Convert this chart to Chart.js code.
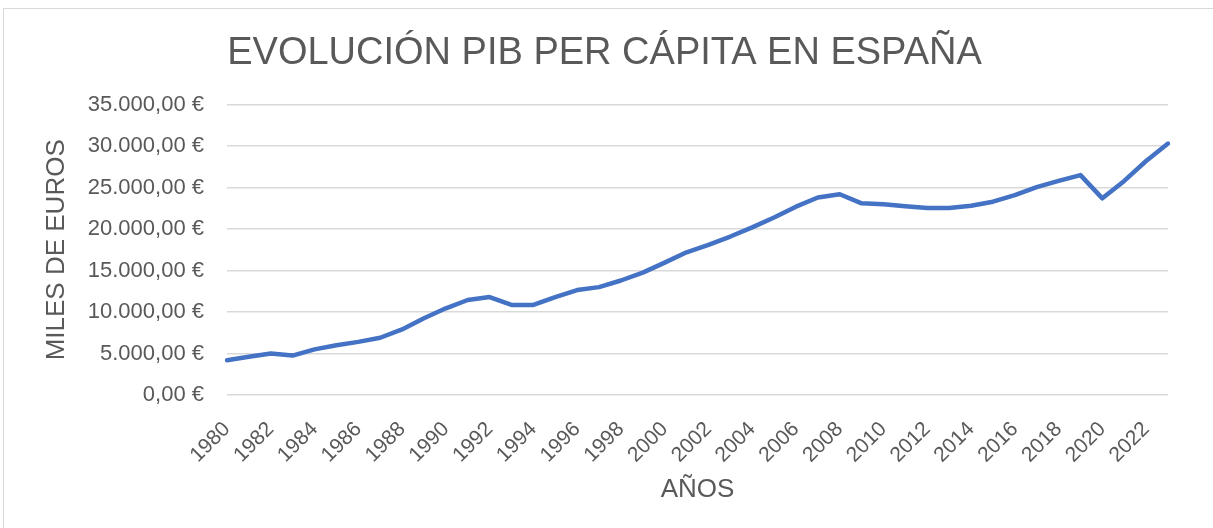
<!DOCTYPE html>
<html>
<head>
<meta charset="utf-8">
<script src="https://cdn.jsdelivr.net/npm/chart.js@4.4.1/dist/chart.umd.min.js"></script>
<style>
    body { margin: 0; background: #fff; overflow: hidden; }
    #wrap { position: relative; width: 1213px; height: 528px; }
    #marco { position: absolute; left: 3px; top: 8px; width: 1230px; height: 540px;
             border-top: 1px solid #d9d9d9; border-left: 1px solid #d9d9d9; }
    #mycanvas { position: absolute; left: 0; top: 0; }
</style>
</head>
<body>
<div id="wrap">
    <div id="marco"></div>
    <canvas id="mycanvas" width="1213" height="528"></canvas>
</div>
<script>
var anios = ['1980', '1981', '1982', '1983', '1984', '1985', '1986', '1987', '1988', '1989',
             '1990', '1991', '1992', '1993', '1994', '1995', '1996', '1997', '1998', '1999',
             '2000', '2001', '2002', '2003', '2004', '2005', '2006', '2007', '2008', '2009',
             '2010', '2011', '2012', '2013', '2014', '2015', '2016', '2017', '2018', '2019',
             '2020', '2021', '2022', '2023'];

var pib = [4200, 4600, 5000, 4750, 5500, 6000, 6400, 6900, 7900, 9250,
           10450, 11450, 11800, 10850, 10850, 11800, 12650, 13000, 13800, 14750,
           15950, 17200, 18100, 19100, 20200, 21400, 22700, 23800, 24200, 23100,
           23000, 22750, 22550, 22550, 22800, 23300, 24100, 25050, 25800, 26500,
           23700, 25800, 28200, 30300];

var ejeY = [0, 5000, 10000, 15000, 20000, 25000, 30000, 35000];

var gris = '#595959';
var fuente = "'Liberation Sans', Arial, sans-serif";

function euros(v) {
    var ent = Math.round(v).toString().replace(/\B(?=(\d{3})+(?!\d))/g, '.');
    return ent + ',00 €';
}

var ctx = document.getElementById('mycanvas');

var lineGraph = new Chart(ctx, {
    type: 'line',
    data: {
        labels: anios,
        datasets: [{
            label: 'PIB per cápita',
            data: pib,
            borderColor: '#4472C4',
            backgroundColor: '#4472C4',
            borderWidth: 4.5,
            borderJoinStyle: 'round',
            borderCapStyle: 'round',
            pointRadius: 0,
            tension: 0
        }]
    },
    options: {
        responsive: false,
        animation: false,
        layout: { padding: { left: 41, right: 45, top: 8, bottom: 23 } },
        plugins: {
            legend: { display: false },
            tooltip: { enabled: false },
            title: {
                display: true,
                text: 'EVOLUCIÓN PIB PER CÁPITA EN ESPAÑA',
                color: gris,
                font: { family: fuente, size: 38, weight: 'normal' },
                padding: { top: 23, bottom: 28 }
            }
        },
        scales: {
            x: {
                grid: { display: false },
                border: { display: false },
                ticks: {
                    autoSkip: false,
                    minRotation: 45,
                    maxRotation: 45,
                    padding: 14,
                    color: gris,
                    font: { family: fuente, size: 21 },
                    callback: function (val, i) {
                        return i % 2 === 0 ? anios[i] : '';
                    }
                },
                title: {
                    display: true,
                    text: 'AÑOS',
                    color: gris,
                    font: { family: fuente, size: 26 },
                    padding: 0
                },
                afterFit: function (scale) { scale.height = 110; }
            },
            y: {
                min: ejeY[0],
                max: ejeY[ejeY.length - 1],
                afterBuildTicks: function (scale) {
                    scale.ticks = ejeY.map(function (v) { return { value: v }; });
                },
                grid: { color: '#d9d9d9', lineWidth: 1.5, drawTicks: false },
                border: { display: false },
                ticks: {
                    padding: 23,
                    color: gris,
                    font: { family: fuente, size: 22 },
                    callback: function (v) { return euros(v); }
                },
                title: {
                    display: true,
                    text: 'MILES DE EUROS',
                    color: gris,
                    font: { family: fuente, size: 26 },
                    padding: 0
                },
                afterFit: function (scale) { scale.width = 186; }
            }
        }
    }
});
</script>
</body>
</html>
